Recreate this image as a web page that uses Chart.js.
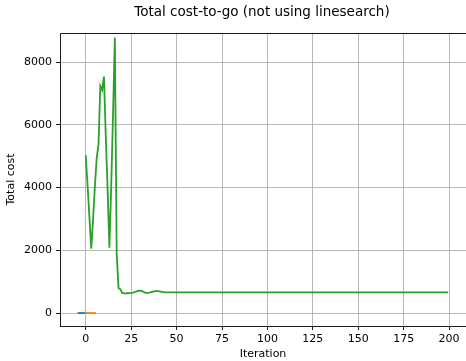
<!DOCTYPE html>
<html>
<head>
<meta charset="utf-8">
<script src="https://cdn.jsdelivr.net/npm/chart.js@4/dist/chart.umd.min.js"></script>
<style>
  body { margin: 0; background: #fff; }
  canvas { display: block; }
</style>
</head>
<body>
<canvas id="costChart" width="466" height="361"></canvas>
<script>
// blue and orange runs are short, sitting at zero cost
const blueIter = [-4, -3, -2, -1, 0];
const blueCost = [0, 0, 0, 0, 0];
const orangeIter = [0, 1, 2, 3, 4, 5];
const orangeCost = [0, 0, 0, 0, 0, 0];

// green run: one value per iteration, starting at iteration 0
const greenCost = [
  5000, 4050, 3050, 2050, 2980, 4030, 4940, 5370, 7240, 7110,
  7540, 5630, 3950, 2080, 4050, 6360, 8780, 1910, 800, 760,
  640, 630, 625, 630, 635, 640, 650, 670, 690, 710,
  715, 700, 665, 640, 640, 650, 665, 680, 695, 700,
  695, 685, 675, 665, 658, 655, 655, 655, 655, 655,
  655, 655, 655, 655, 655, 655, 655, 655, 655, 655,
  655, 655, 655, 655, 655, 655, 655, 655, 655, 655,
  655, 655, 655, 655, 655, 655, 655, 655, 655, 655,
  655, 655, 655, 655, 655, 655, 655, 655, 655, 655,
  655, 655, 655, 655, 655, 655, 655, 655, 655, 655,
  655, 655, 655, 655, 655, 655, 655, 655, 655, 655,
  655, 655, 655, 655, 655, 655, 655, 655, 655, 655,
  655, 655, 655, 655, 655, 655, 655, 655, 655, 655,
  655, 655, 655, 655, 655, 655, 655, 655, 655, 655,
  655, 655, 655, 655, 655, 655, 655, 655, 655, 655,
  655, 655, 655, 655, 655, 655, 655, 655, 655, 655,
  655, 655, 655, 655, 655, 655, 655, 655, 655, 655,
  655, 655, 655, 655, 655, 655, 655, 655, 655, 655,
  655, 655, 655, 655, 655, 655, 655, 655, 655, 655,
  655, 655, 655, 655, 655, 655, 655, 655, 655, 655
];

const xTicks = [0, 25, 50, 75, 100, 125, 150, 175, 200];
const yTicks = [0, 2000, 4000, 6000, 8000];

const titleText = 'Total cost-to-go (not using linesearch)';

const toPoints = (xs, ys) => ys.map((y, i) => ({ x: xs[i], y: y }));
const greenPoints = greenCost.map((y, i) => ({ x: i, y: y }));

// title over the plot box + left/top spines, like matplotlib
const framePlugin = {
  id: 'frame',
  afterDraw(chart) {
    const ctx = chart.ctx;
    const a = chart.chartArea;
    const top = Math.round(a.top) + 0.5;
    const left = Math.round(a.left) + 0.5;
    ctx.save();
    ctx.strokeStyle = '#000';
    ctx.lineWidth = 0.9;
    ctx.beginPath();
    ctx.moveTo(left, a.bottom + 0.5);
    ctx.lineTo(left, top);
    ctx.lineTo(a.right, top);
    ctx.stroke();
    ctx.fillStyle = '#000';
    ctx.font = '13.5px "DejaVu Sans"';
    ctx.textAlign = 'center';
    ctx.textBaseline = 'middle';
    ctx.fillText(titleText, 262, 12.5);
    ctx.restore();
  }
};

const gridOpts = {
  color: '#b0b0b0',
  lineWidth: 0.9,
  tickColor: '#000',
  tickWidth: 0.9,
  tickLength: 4
};

new Chart(document.getElementById('costChart'), {
  type: 'line',
  data: {
    datasets: [
      { data: greenPoints, borderColor: '#2ca02c' },
      { data: toPoints(orangeIter, orangeCost), borderColor: '#ff7f0e' },
      { data: toPoints(blueIter, blueCost), borderColor: '#1f77b4' }
    ]
  },
  options: {
    responsive: false,
    animation: false,
    // plot box runs a little past the right edge, as in the reference
    layout: { padding: { top: 33, right: -2, left: 0, bottom: 0 } },
    elements: {
      point: { radius: 0 },
      line: { borderWidth: 1.8, tension: 0, borderCapStyle: 'square', fill: false }
    },
    plugins: {
      legend: { display: false },
      tooltip: { enabled: false },
      title: { display: false }
    },
    scales: {
      x: {
        type: 'linear',
        min: -14.2,
        max: 209.3,
        afterBuildTicks: (s) => { s.ticks = xTicks.map(v => ({ value: v })); },
        afterFit: (s) => { s.height = 35; },
        grid: gridOpts,
        border: { color: '#000', width: 0.9 },
        ticks: {
          color: '#000',
          padding: 3,
          maxRotation: 0,
          font: { family: 'DejaVu Sans', size: 11 }
        },
        title: {
          display: true,
          text: 'Iteration',
          color: '#000',
          padding: { top: 0, bottom: 0 },
          font: { family: 'DejaVu Sans', size: 11 }
        }
      },
      y: {
        type: 'linear',
        min: -414,
        max: 8927,
        afterBuildTicks: (s) => { s.ticks = yTicks.map(v => ({ value: v })); },
        afterFit: (s) => { s.width = 60; },
        grid: gridOpts,
        border: { display: false },
        ticks: {
          color: '#000',
          padding: 4,
          font: { family: 'DejaVu Sans', size: 11 },
          callback: (v) => String(v)
        },
        title: {
          display: true,
          text: 'Total cost',
          color: '#000',
          padding: { top: 5, bottom: 0 },
          font: { family: 'DejaVu Sans', size: 11 }
        }
      }
    }
  },
  plugins: [framePlugin]
});
</script>
</body>
</html>
